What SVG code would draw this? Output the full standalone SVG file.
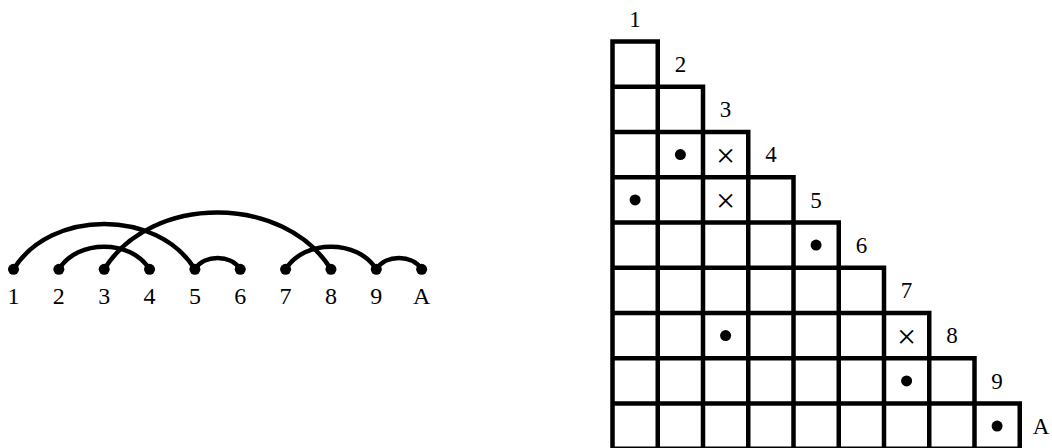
<svg xmlns="http://www.w3.org/2000/svg" width="1052" height="448" viewBox="0 0 1052 448">
<style>
.arc{fill:none;stroke:#000;stroke-width:4.5}
.pt{fill:#000}
.lbl{font-family:"Liberation Serif",serif;font-size:24px;text-anchor:middle;fill:#000}
.glbl{font-family:"Liberation Serif",serif;font-size:23px;text-anchor:middle;fill:#000}
.grid{fill:none;stroke:#000;stroke-width:4.5;stroke-linecap:square}
.x{font-family:"Liberation Serif",serif;font-size:34px;font-weight:300;text-anchor:middle;fill:#000}
</style>
<rect width="1052" height="448" fill="#fff"/>
<g id="connectors">
<path class="arc" d="M13.5,269.3 C50.7,208.8 157.7,208.8 194.9,269.3"/>
<path class="arc" d="M58.85,269.3 C77.45,239.1 130.95,239.1 149.55,269.3"/>
<path class="arc" d="M104.2,269.3 C150.7,193.7 284.45,193.7 330.95,269.3"/>
<path class="arc" d="M194.9,269.3 C204.2,254.2 230.95,254.2 240.25,269.3"/>
<path class="arc" d="M285.6,269.3 C304.2,239.1 357.7,239.1 376.3,269.3"/>
<path class="arc" d="M376.3,269.3 C385.6,254.2 412.35,254.2 421.65,269.3"/>
</g>
<g id="n1"><circle class="pt" cx="13.5" cy="269.3" r="5.5"/><text class="lbl" x="13.5" y="304.3">1</text></g>
<g id="n2"><circle class="pt" cx="58.85" cy="269.3" r="5.5"/><text class="lbl" x="58.85" y="304.3">2</text></g>
<g id="n3"><circle class="pt" cx="104.2" cy="269.3" r="5.5"/><text class="lbl" x="104.2" y="304.3">3</text></g>
<g id="n4"><circle class="pt" cx="149.55" cy="269.3" r="5.5"/><text class="lbl" x="149.55" y="304.3">4</text></g>
<g id="n5"><circle class="pt" cx="194.9" cy="269.3" r="5.5"/><text class="lbl" x="194.9" y="304.3">5</text></g>
<g id="n6"><circle class="pt" cx="240.25" cy="269.3" r="5.5"/><text class="lbl" x="240.25" y="304.3">6</text></g>
<g id="n7"><circle class="pt" cx="285.6" cy="269.3" r="5.5"/><text class="lbl" x="285.6" y="304.3">7</text></g>
<g id="n8"><circle class="pt" cx="330.95" cy="269.3" r="5.5"/><text class="lbl" x="330.95" y="304.3">8</text></g>
<g id="n9"><circle class="pt" cx="376.3" cy="269.3" r="5.5"/><text class="lbl" x="376.3" y="304.3">9</text></g>
<g id="nA"><circle class="pt" cx="421.65" cy="269.3" r="5.5"/><text class="lbl" x="421.65" y="304.3">A</text></g>
<g id="grid">
<path class="grid" d="M612.5,41.5H657.75 M612.5,86.75H703 M612.5,132H748.25 M612.5,177.25H793.5 M612.5,222.5H838.75 M612.5,267.75H884 M612.5,313H929.25 M612.5,358.25H974.5 M612.5,403.5H1019.75 M612.5,448.75H1019.75 M612.5,41.5V448.75 M657.75,41.5V448.75 M703,86.75V448.75 M748.25,132V448.75 M793.5,177.25V448.75 M838.75,222.5V448.75 M884,267.75V448.75 M929.25,313V448.75 M974.5,358.25V448.75 M1019.75,403.5V448.75"/>
</g>
<g id="grid-labels">
<text class="glbl" x="635.1" y="26.5">1</text>
<text class="glbl" x="680.4" y="71.7">2</text>
<text class="glbl" x="725.6" y="117">3</text>
<text class="glbl" x="770.9" y="162.2">4</text>
<text class="glbl" x="816.1" y="207.5">5</text>
<text class="glbl" x="861.4" y="252.7">6</text>
<text class="glbl" x="906.6" y="298">7</text>
<text class="glbl" x="951.9" y="343.2">8</text>
<text class="glbl" x="997.1" y="388.5">9</text>
<text class="glbl" x="1041" y="434">A</text>
</g>
<g id="marks">
<circle class="pt" cx="680.4" cy="154.6" r="5.5"/>
<circle class="pt" cx="635.1" cy="199.9" r="5.5"/>
<circle class="pt" cx="816.1" cy="245.1" r="5.5"/>
<circle class="pt" cx="725.6" cy="335.6" r="5.5"/>
<circle class="pt" cx="906.6" cy="380.9" r="5.5"/>
<circle class="pt" cx="997.1" cy="426.1" r="5.5"/>
<text class="x" x="725.6" y="166.5">×</text>
<text class="x" x="725.6" y="211.8">×</text>
<text class="x" x="906.6" y="347.5">×</text>
</g>
</svg>
